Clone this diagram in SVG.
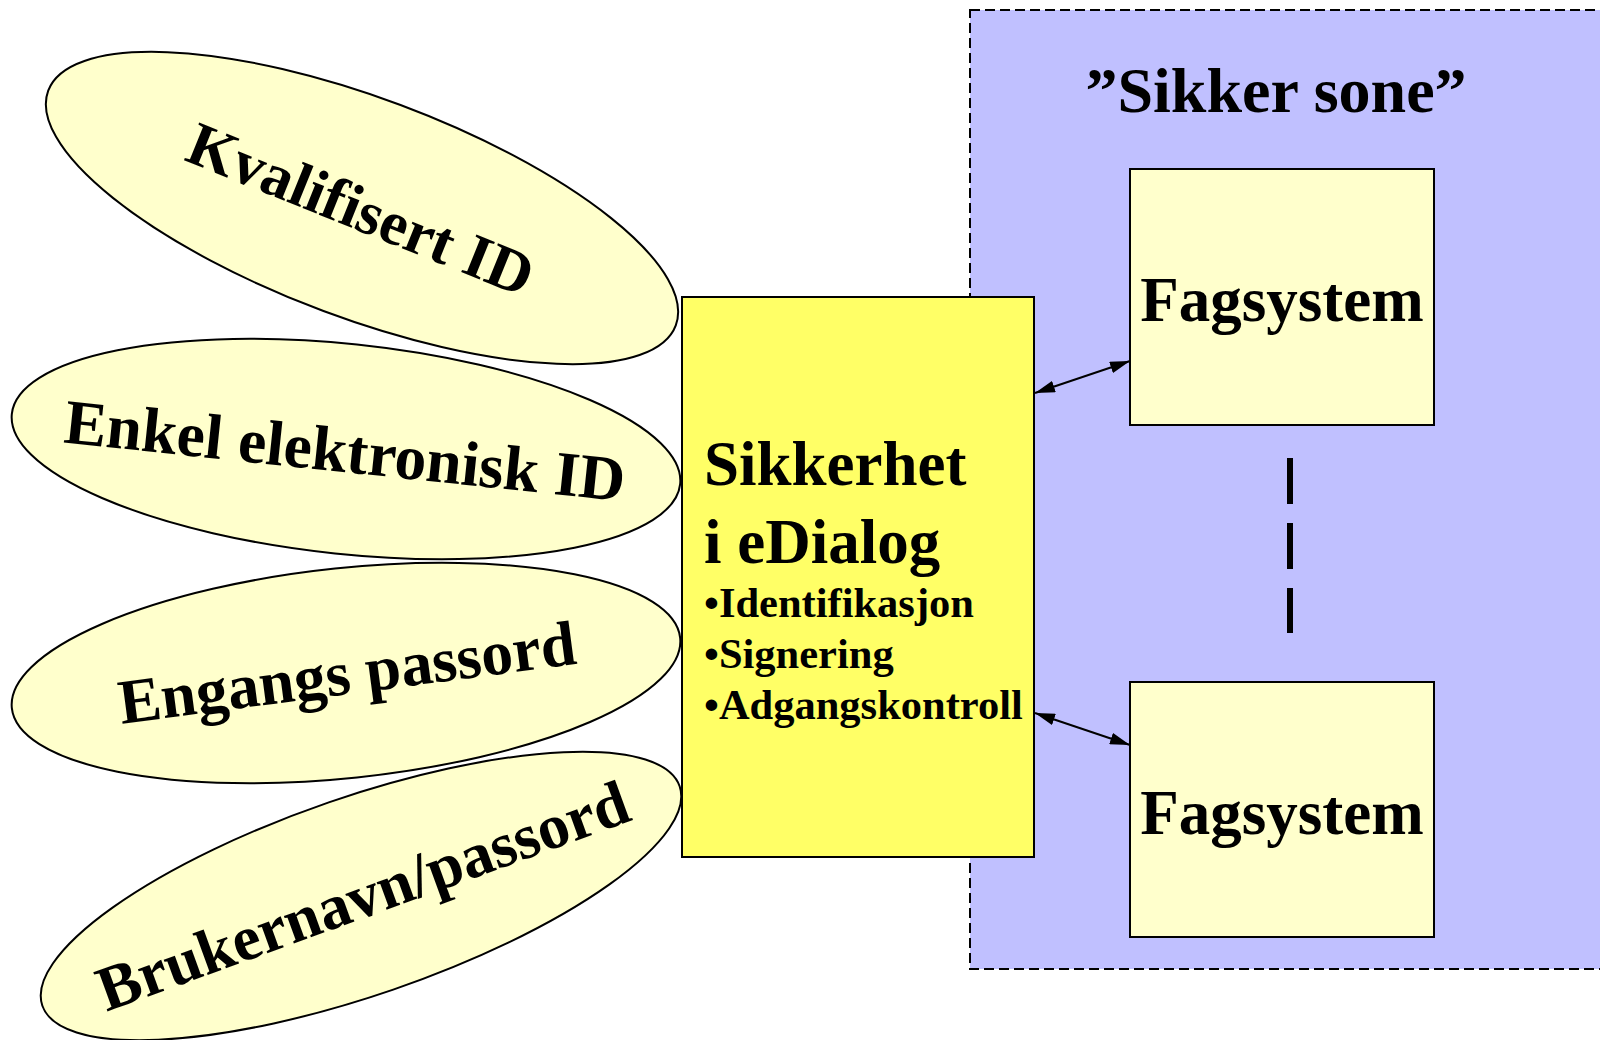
<svg xmlns="http://www.w3.org/2000/svg" width="1600" height="1040" viewBox="0 0 1600 1040">
<style>
.t{font-family:"Liberation Serif","Times New Roman",serif;font-weight:bold;fill:#000}
.ell{fill:#FFFFCC;stroke:#000;stroke-width:2}
.box{fill:#FFFFCC;stroke:#000;stroke-width:2}
.conn{stroke:#000;stroke-width:2;fill:none}
</style>
<defs>
<marker id="ah" viewBox="0 0 20 12" refX="20" refY="6" markerWidth="20" markerHeight="12" markerUnits="userSpaceOnUse" orient="auto-start-reverse">
<path d="M0,0 L20,6 L0,12 z" fill="#000"/>
</marker>
</defs>
<rect width="1600" height="1040" fill="#fff"/>
<g id="sikker-sone">
<rect x="970" y="10" width="650" height="959" fill="#C0C0FF" stroke="#000" stroke-width="2" stroke-dasharray="10 5"/>
<text class="t" x="1276" y="112" font-size="64" text-anchor="middle">”Sikker sone”</text>
</g>
<g id="kvalifisert-id">
<ellipse class="ell" cx="362" cy="208" rx="335" ry="110" transform="rotate(20.5 362 208)"/>
<text class="t" font-size="62" text-anchor="middle" transform="translate(361 209) rotate(22)" x="0" y="21">Kvalifisert ID</text>
</g>
<g id="enkel-elektronisk-id">
<ellipse class="ell" cx="346" cy="449" rx="336" ry="105" transform="rotate(6 346 449)"/>
<text class="t" font-size="63.5" text-anchor="middle" transform="translate(345 451) rotate(6)" x="0" y="21">Enkel elektronisk ID</text>
</g>
<g id="engangs-passord">
<ellipse class="ell" cx="346" cy="673" rx="336" ry="105" transform="rotate(-6 346 673)"/>
<text class="t" font-size="63.5" text-anchor="middle" transform="translate(347 673) rotate(-7.5)" x="0" y="21">Engangs passord</text>
</g>
<g id="brukernavn-passord">
<ellipse class="ell" cx="361" cy="896" rx="337" ry="99" transform="rotate(-19 361 896)"/>
<text class="t" font-size="63.5" text-anchor="middle" transform="translate(363 896) rotate(-20)" x="0" y="21">Brukernavn/passord</text>
</g>
<g id="sikkerhet-edialog">
<rect x="682" y="297" width="352" height="560" fill="#FFFF66" stroke="#000" stroke-width="2"/>
<text class="t" x="704" y="485" font-size="63">Sikkerhet</text>
<text class="t" x="704" y="563" font-size="63">i eDialog</text>
<text class="t" x="704" y="617" font-size="42.5">•Identifikasjon</text>
<text class="t" x="704" y="668" font-size="42.5">•Signering</text>
<text class="t" x="704" y="719" font-size="42.5">•Adgangskontroll</text>
</g>
<g id="fagsystem-1">
<rect class="box" x="1130" y="169" width="304" height="256"/>
<text class="t" x="1282" y="321" font-size="63" text-anchor="middle">Fagsystem</text>
</g>
<g id="fagsystem-2">
<rect class="box" x="1130" y="682" width="304" height="255"/>
<text class="t" x="1282" y="834" font-size="63" text-anchor="middle">Fagsystem</text>
</g>
<g id="connectors">
<line class="conn" x1="1035" y1="393" x2="1130" y2="361" marker-start="url(#ah)" marker-end="url(#ah)"/>
<line class="conn" x1="1035" y1="713" x2="1130" y2="745" marker-start="url(#ah)" marker-end="url(#ah)"/>
<line x1="1290" y1="458" x2="1290" y2="633" stroke="#000" stroke-width="6" stroke-dasharray="46 19"/>
</g>
</svg>
